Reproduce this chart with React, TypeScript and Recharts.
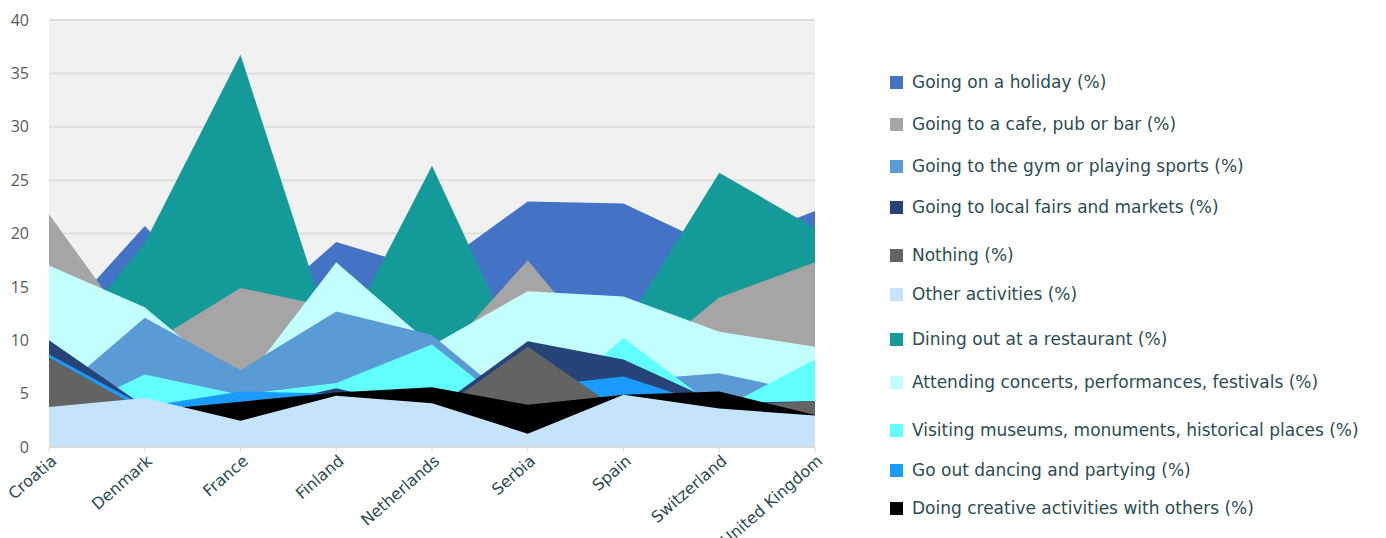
import React from "react";
import { AreaChart, Area, XAxis, YAxis, CartesianGrid } from "recharts";

const categories = ["Croatia", "Denmark", "France", "Finland", "Netherlands", "Serbia", "Spain", "Switzerland", "United Kingdom"];

const holiday = [10.8, 20.7, 11.3, 19.2, 16.5, 23.0, 22.8, 18.6, 22.1];
const cafe = [21.8, 9.4, 14.9, 13.0, 7.5, 17.5, 6.7, 14.0, 17.3];
const gym = [4.4, 12.1, 7.2, 12.7, 10.5, 3.1, 6.2, 6.9, 5.0];
const fairs = [10.0, 3.8, 3.5, 5.5, 3.4, 9.9, 8.2, 4.1, 4.3];
const nothing = [8.4, 3.4, 2.4, 2.9, 3.0, 9.4, 3.2, 3.9, 4.3];
const other = [3.75, 4.6, 2.45, 4.8, 4.1, 1.25, 4.9, 3.6, 2.95];
const dining = [8.0, 19.1, 36.75, 9.0, 26.35, 7.0, 11.2, 25.7, 20.5];
const concerts = [17.0, 13.1, 5.6, 17.3, 9.5, 14.6, 14.1, 10.8, 9.4];
const museums = [2.5, 6.8, 4.9, 6.0, 9.6, 2.5, 10.2, 3.5, 8.2];
const dancing = [8.7, 3.8, 5.2, 5.0, 4.5, 5.6, 6.6, 3.7, 3.5];
const creative = [3.2, 3.4, 4.25, 5.1, 5.6, 3.95, 4.9, 5.2, 3.0];

const yTicks = [0, 5, 10, 15, 20, 25, 30, 35, 40];

const seriesDefs = [
  { key: "holiday", name: "Going on a holiday (%)", color: "#4472c4", values: holiday },
  { key: "cafe", name: "Going to a cafe, pub or bar (%)", color: "#a5a5a5", values: cafe },
  { key: "gym", name: "Going to the gym or playing sports (%)", color: "#5b9bd5", values: gym },
  { key: "fairs", name: "Going to local fairs and markets (%)", color: "#264478", values: fairs },
  { key: "nothing", name: "Nothing (%)", color: "#636363", values: nothing },
  { key: "other", name: "Other activities (%)", color: "#c5e4fc", values: other },
  { key: "dining", name: "Dining out at a restaurant (%)", color: "#149a98", values: dining },
  { key: "concerts", name: "Attending concerts, performances, festivals (%)", color: "#c3ffff", values: concerts },
  { key: "museums", name: "Visiting museums, monuments, historical places (%)", color: "#62ffff", values: museums },
  { key: "dancing", name: "Go out dancing and partying (%)", color: "#1a9cff", values: dancing },
  { key: "creative", name: "Doing creative activities with others (%)", color: "#000000", values: creative },
];

// paint order (first drawn = underneath)
const paintOrder = ["holiday", "dining", "cafe", "concerts", "gym", "museums", "fairs", "dancing", "nothing", "creative", "other"];

const legendTops = [82, 124, 166, 207, 255, 294, 339, 382, 430, 470, 508];

const data = categories.map((c, i) => {
  const row: Record<string, any> = { category: c };
  seriesDefs.forEach((s) => {
    row[s.key] = s.values[i];
  });
  return row;
});

const FONT = "'Open Sans', 'DejaVu Sans', sans-serif";
const WIDE = "'DejaVu Sans', sans-serif";

const XTick = (props: any) => {
  const { x, y, payload } = props;
  return (
    <g transform={`translate(${x + 2},${y + 1})`}>
      <text
        x={0}
        y={0}
        dy={10}
        textAnchor="end"
        transform="rotate(-41)"
        fill="#2b4d52"
        fontSize={16}
        fontFamily={WIDE}
      >
        {payload.value}
      </text>
    </g>
  );
};

export default function App() {
  return (
    <div style={{ position: "absolute", left: 0, top: 0, width: 1386, height: 538, background: "#fff", overflow: "hidden" }}>
      <AreaChart
        width={1386}
        height={538}
        data={data}
        margin={{ top: 20, right: 571, left: 0, bottom: 0 }}
      >
        <CartesianGrid vertical={false} stroke="#dedede" strokeWidth={2} fill="#f1f1f1" />
        <XAxis
          dataKey="category"
          height={91}
          interval={0}
          tick={<XTick />}
          axisLine={{ stroke: "#d9d9d9", strokeWidth: 2 }}
          tickLine={{ stroke: "#d9d9d9" }}
          tickSize={5}
          padding={{ left: 0, right: 0 }}
        />
        <YAxis
          width={49}
          domain={[0, 40]}
          ticks={yTicks}
          axisLine={false}
          tickLine={false}
          tick={{ fill: "#595959", fontSize: 16, fontFamily: FONT }}
          tickMargin={14}
        />
        {paintOrder.map((k) => {
          const s = seriesDefs.find((d) => d.key === k)!;
          return (
            <Area
              key={k}
              type="linear"
              dataKey={k}
              name={s.name}
              stroke="none"
              fill={s.color}
              fillOpacity={1}
              isAnimationActive={false}
              dot={false}
              activeDot={false}
            />
          );
        })}
      </AreaChart>
      {seriesDefs.map((s, i) => (
        <div
          key={s.key}
          style={{
            position: "absolute",
            left: 890,
            top: legendTops[i] - 11,
            height: 22,
            display: "flex",
            alignItems: "center",
            fontFamily: WIDE,
            fontSize: 17,
            color: "#2b4d52",
            whiteSpace: "nowrap",
          }}
        >
          <span style={{ display: "inline-block", width: 13, height: 13, background: s.color, marginRight: 9, flexShrink: 0 }} />
          <span>{s.name}</span>
        </div>
      ))}
    </div>
  );
}
